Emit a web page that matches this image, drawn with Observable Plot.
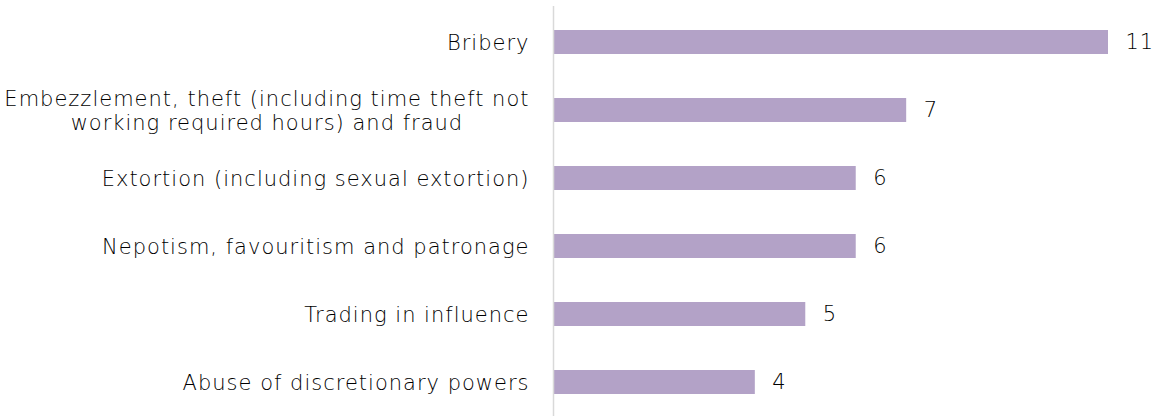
<!DOCTYPE html>
<html>
<head>
<meta charset="utf-8">
<script src="https://cdn.jsdelivr.net/npm/d3@7"></script>
<script src="https://cdn.jsdelivr.net/npm/@observablehq/plot@0.6"></script>
<style>
  body { margin: 0; background: #fff; }
</style>
</head>
<body>
<div id="chart"></div>
<script>
const categories = [
  "Bribery",
  "Embezzlement, theft (including time theft not\nworking required hours) and fraud",
  "Extortion (including sexual extortion)",
  "Nepotism, favouritism and patronage",
  "Trading in influence",
  "Abuse of discretionary powers"
];
const values = [11, 7, 6, 6, 5, 4];

const data = categories.map((c, i) => ({category: c, value: values[i]}));

const FONT = "'DejaVu Sans', sans-serif";

const chart = Plot.plot({
  width: 1153,
  height: 416,
  marginTop: 6,
  marginBottom: 0,
  marginLeft: 553,
  marginRight: 0,
  style: {fontFamily: FONT, fontSize: "21px", fontWeight: 300, letterSpacing: "1px", color: "#000", background: "#fff"},
  x: {domain: [0, 11], range: [553, 1108], axis: null},
  y: {domain: categories, range: [5.6, 418.4], paddingInner: 0.65, paddingOuter: 0.325, label: null},
  marks: [
    Plot.barX(data, {x: "value", y: "category", fill: "#b3a2c7"}),
    Plot.ruleX([0], {stroke: "#d9d9d9", strokeWidth: 1.5}),
    Plot.axisY({tickSize: 0, tickPadding: 24, fontSize: 21, lineHeight: 1.14, fill: "#000", label: null}),
    Plot.text(data, {x: "value", y: "category", text: d => String(d.value), dx: 17, textAnchor: "start", fontSize: 21, fill: "#000"})
  ]
});
document.getElementById("chart").appendChild(chart);

// Center the lines of multi-line category labels on each other (as in the original)
chart.querySelectorAll("text").forEach(t => {
  const spans = t.querySelectorAll("tspan");
  if (spans.length > 1) {
    const widths = Array.from(spans, s => s.getComputedTextLength());
    const w = Math.max(...widths);
    t.setAttribute("text-anchor", "middle");
    spans.forEach(s => s.setAttribute("x", String(-w / 2)));
  }
});
</script>
</body>
</html>
